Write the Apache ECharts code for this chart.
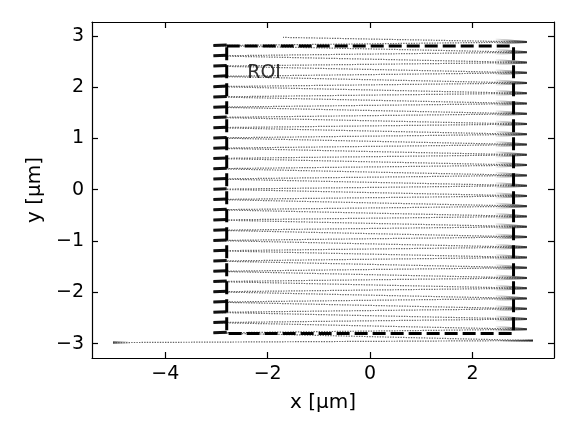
<!DOCTYPE html>
<html>
<head>
<meta charset="utf-8">
<script src="https://cdn.jsdelivr.net/npm/echarts@6/dist/echarts.min.js"></script>
<style>
  html, body { margin: 0; padding: 0; background: #fff; }
  #chart { width: 581px; height: 436px; }
</style>
</head>
<body>
<div id="chart"></div>
<script>
// scan path (µm)
const scanStart = [-5.02, -2.98]
const firstTurn = [3.18, -2.94]
const scanEnd = [-1.7, 2.97]
const leftEdgeX = -3.06
const rightEdgeX = 3.06
const leftRowY = [-2.79, -2.59, -2.39, -2.19, -1.99, -1.79, -1.59, -1.39, -1.19, -0.99,
  -0.79, -0.59, -0.39, -0.19, 0.01, 0.21, 0.41, 0.61, 0.81, 1.01,
  1.21, 1.41, 1.61, 1.81, 2.01, 2.21, 2.41, 2.61, 2.81]
const rightTipY = [-2.72, -2.52, -2.32, -2.12, -1.92, -1.72, -1.52, -1.32, -1.12, -0.92,
  -0.72, -0.52, -0.32, -0.12, 0.08, 0.28, 0.48, 0.68, 0.88, 1.08,
  1.28, 1.48, 1.68, 1.88, 2.08, 2.28, 2.48, 2.68, 2.88]

// dark (slow) ends of each sweep
const leftDarkX = [-3.06, -2.8]
const rightDarkX = [2.45, 3.06]

// ROI rectangle
const roiX = [-2.8, 2.8, 2.8, -2.8, -2.8]
const roiY = [2.8, 2.8, -2.8, -2.8, 2.8]

const xTicks = [-4, -2, 0, 2]
const yTicks = [-3, -2, -1, 0, 1, 2, 3]

// build the path: start -> first turn -> (left row -> right tip) ... -> end
const scanPath = [scanStart, firstTurn]
for (let i = 0; i < leftRowY.length; i++) {
  scanPath.push([leftEdgeX, leftRowY[i]])
  scanPath.push([rightEdgeX, rightTipY[i]])
}
scanPath.push(scanEnd)

const rightFade = new echarts.graphic.LinearGradient(0, 0, 1, 0, [
  { offset: 0, color: 'rgba(90,90,90,0)' },
  { offset: 0.55, color: 'rgba(60,60,60,0.6)' },
  { offset: 1, color: '#1a1a1a' }
])

const leftEnds = leftRowY.map((y) => ({
  coords: [[leftDarkX[0], y], [leftDarkX[1], y + 0.01]]
}))
const rightEnds = rightTipY.map((y) => ({
  coords: [[rightDarkX[0], y - 0.03], [rightDarkX[1], y], [rightDarkX[0], y + 0.05]]
}))
rightEnds.unshift({ coords: [[rightDarkX[0] + 0.12, firstTurn[1] - 0.01], firstTurn] })

const roiData = roiX.map((x, i) => [x, roiY[i]])

const chart = echarts.init(document.getElementById('chart'))
const font = 'DejaVu Sans'
const minus = (v) => String(v).replace('-', '\u2212')

const baseX = {
  type: 'value',
  min: -5.43,
  max: 3.59,
  splitLine: { show: false },
  axisLine: { show: true, onZero: false, lineStyle: { color: '#000', width: 1.2 } },
  axisTick: { show: true, inside: true, length: 6, lineStyle: { color: '#000', width: 1.2 }, customValues: xTicks }
}
const baseY = {
  type: 'value',
  min: -3.28,
  max: 3.27,
  splitLine: { show: false },
  axisLine: { show: true, onZero: false, lineStyle: { color: '#000', width: 1.2 } },
  axisTick: { show: true, inside: true, length: 6, lineStyle: { color: '#000', width: 1.2 }, customValues: yTicks }
}

const option = {
  animation: false,
  backgroundColor: '#fff',
  grid: { left: 92, right: 27, top: 22, bottom: 78 },
  xAxis: [
    Object.assign({}, baseX, {
      position: 'bottom',
      name: 'x [µm]',
      nameLocation: 'middle',
      nameGap: 35,
      nameTextStyle: { color: '#000', fontFamily: font, fontSize: 20 },
      axisLabel: {
        color: '#000', fontFamily: font, fontSize: 19, margin: 7,
        customValues: xTicks, formatter: minus
      }
    }),
    Object.assign({}, baseX, { position: 'top', axisLabel: { show: false } })
  ],
  yAxis: [
    Object.assign({}, baseY, {
      position: 'left',
      name: 'y [µm]',
      nameLocation: 'middle',
      nameGap: 44,
      nameRotate: 90,
      nameTextStyle: { color: '#000', fontFamily: font, fontSize: 20 },
      axisLabel: {
        color: '#000', fontFamily: font, fontSize: 19, margin: 8,
        customValues: yTicks, formatter: minus
      }
    }),
    Object.assign({}, baseY, { position: 'right', axisLabel: { show: false } })
  ],
  series: [
    {
      type: 'line',
      data: scanPath,
      symbol: 'none',
      lineStyle: { color: '#666', width: 1.2, type: [1.4, 1.2] },
      z: 1
    },
    {
      type: 'lines',
      coordinateSystem: 'cartesian2d',
      polyline: true,
      data: leftEnds,
      lineStyle: { color: '#111', width: 3, opacity: 1 },
      z: 2
    },
    {
      type: 'lines',
      coordinateSystem: 'cartesian2d',
      polyline: true,
      data: rightEnds,
      lineStyle: { color: rightFade, width: 2, opacity: 1 },
      z: 2
    },
    {
      type: 'lines',
      coordinateSystem: 'cartesian2d',
      data: [{ coords: [scanStart, [scanStart[0] + 0.3, scanStart[1] + 0.002]] }],
      lineStyle: { color: new echarts.graphic.LinearGradient(0, 0, 1, 0, [
        { offset: 0, color: '#333' }, { offset: 1, color: 'rgba(120,120,120,0)' }
      ]), width: 2.5, opacity: 1 },
      z: 2
    },
    {
      type: 'line',
      data: roiData,
      symbol: 'none',
      lineStyle: { color: '#000', width: 3, type: [13, 5] },
      z: 3
    },
    {
      type: 'scatter',
      data: [[-2.07, 2.27]],
      symbolSize: 0,
      label: {
        show: true, position: 'inside', formatter: 'ROI',
        color: '#000', fontFamily: font, fontSize: 19
      },
      z: 4
    }
  ]
}
chart.setOption(option)
</script>
</body>
</html>
